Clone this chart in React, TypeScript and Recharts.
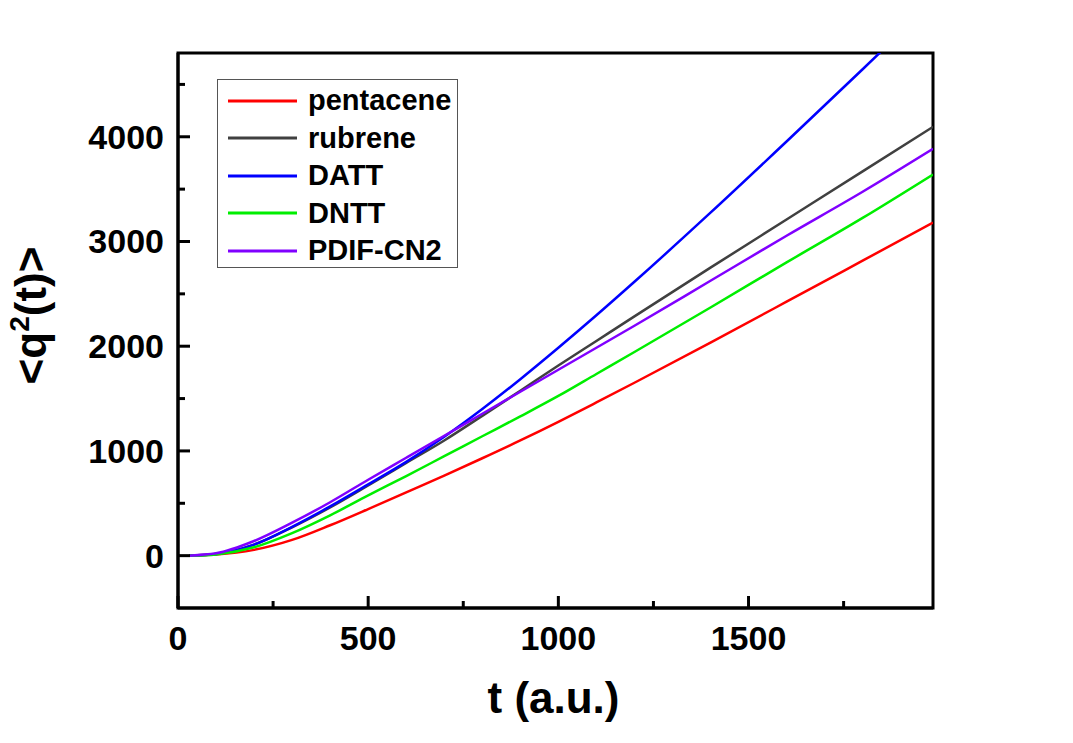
import React from "react";
import { LineChart, Line, XAxis, YAxis, Legend, ReferenceArea, Label } from "recharts";

const tValues = [30, 100, 200, 300, 400, 500, 600, 700, 800, 900, 1000, 1100, 1200, 1400, 1600, 1800, 1985];
const pentacene = [0, 10, 55, 150, 290, 445, 605, 765, 930, 1100, 1278, 1463, 1651, 2035, 2425, 2817, 3180];
const rubrene = [0, 15, 105, 270, 460, 670, 885, 1100, 1335, 1575, 1815, 2050, 2285, 2750, 3210, 3670, 4095];
const DATT = [0, 15, 105, 275, 470, 680, 895, 1135, 1400, 1685, 1985, 2295, 2615, 3275, 3955, 4645, 5290];
const DNTT = [0, 12, 80, 215, 385, 575, 760, 950, 1140, 1330, 1525, 1735, 1945, 2370, 2800, 3225, 3640];
const PDIF = [0, 22, 140, 315, 510, 725, 935, 1145, 1355, 1565, 1775, 1985, 2195, 2625, 3055, 3475, 3885];

const seriesNames = ["pentacene", "rubrene", "DATT", "DNTT", "PDIF-CN2"];
const seriesColors = ["#ff0000", "#404040", "#0000ff", "#00ee00", "#8000ff"];
const seriesValues = [pentacene, rubrene, DATT, DNTT, PDIF];

const xTicks = [0, 250, 500, 750, 1000, 1250, 1500, 1750];
const yTicks = [0, 500, 1000, 1500, 2000, 2500, 3000, 3500, 4000, 4500];
const xDomain = [0, 1985];
const yDomain = [-500, 4800];

const data = tValues.map((t, i) => {
  const row: any = { t };
  seriesNames.forEach((n, k) => {
    row[n] = seriesValues[k][i];
  });
  return row;
});

const FONT = "'Liberation Sans', Arial, sans-serif";

const XTick = (props: any) => {
  const { x, y, payload } = props;
  const major = payload.value % 500 === 0;
  return (
    <g>
      <line x1={x} x2={x} y1={y} y2={y - (major ? 12 : 7)} stroke="#000" strokeWidth={3} />
      {major && (
        <text x={x} y={y + 42} textAnchor="middle" fontFamily={FONT} fontWeight="bold" fontSize={34} fill="#000">
          {payload.value}
        </text>
      )}
    </g>
  );
};

const YTick = (props: any) => {
  const { x, y, payload } = props;
  const major = payload.value % 1000 === 0;
  return (
    <g>
      <line x1={x} x2={x + (major ? 12 : 7)} y1={y} y2={y} stroke="#000" strokeWidth={3} />
      {major && (
        <text x={x - 14} y={y + 12} textAnchor="end" fontFamily={FONT} fontWeight="bold" fontSize={34} fill="#000">
          {payload.value}
        </text>
      )}
    </g>
  );
};

const YTitle = (props: any) => {
  const vb = props.viewBox || { x: 18, y: 53, width: 160, height: 555 };
  const bx = vb.x + 28;
  const cy = vb.y + vb.height / 2 - 15;
  return (
    <text
      x={bx}
      y={cy}
      transform={`rotate(-90, ${bx}, ${cy})`}
      textAnchor="middle"
      fontFamily={FONT}
      fontWeight="bold"
      fontSize={44}
      fill="#000"
    >
      <tspan>{"<q"}</tspan>
      <tspan fontSize={28} dy={-17}>2</tspan>
      <tspan dy={17}>{"(t)>"}</tspan>
    </text>
  );
};

const XTitle = (props: any) => {
  const vb = props.viewBox || { x: 178, y: 608, width: 755, height: 120 };
  return (
    <text
      x={vb.x + vb.width / 2 - 2}
      y={vb.y + 105}
      textAnchor="middle"
      fontFamily={FONT}
      fontWeight="bold"
      fontSize={44}
      fill="#000"
    >
      t (a.u.)
    </text>
  );
};

const LegendBox = () => (
  <div
    style={{
      width: 241,
      height: 189,
      boxSizing: "border-box",
      border: "1.5px solid #555",
      background: "#fff",
      paddingTop: 2,
    }}
  >
    {seriesNames.map((n, i) => (
      <div key={n} style={{ height: 37.5, display: "flex", alignItems: "center" }}>
        <svg width={80} height={10} style={{ marginLeft: 10, flex: "none" }}>
          <line x1={0} x2={69} y1={5} y2={5} stroke={seriesColors[i]} strokeWidth={3} />
        </svg>
        <span style={{ fontFamily: FONT, fontWeight: "bold", fontSize: 29, color: "#000", lineHeight: "37px" }}>{n}</span>
      </div>
    ))}
  </div>
);

export default function App() {
  return (
    <div style={{ width: 1073, height: 743, position: "relative", background: "#fff", margin: "-8px 0 0 -8px" }}>
      <LineChart width={1073} height={743} data={data} margin={{ top: 53, right: 140, left: 18, bottom: 15 }}>
        <ReferenceArea
          x1={xDomain[0]}
          x2={xDomain[1]}
          y1={yDomain[0]}
          y2={yDomain[1]}
          fill="none"
          stroke="#000"
          strokeWidth={3}
          ifOverflow="visible"
        />
        <XAxis
          dataKey="t"
          type="number"
          domain={xDomain}
          ticks={xTicks}
          interval={0}
          allowDataOverflow
          height={120}
          tickSize={0}
          tickMargin={0}
          tickLine={false}
          axisLine={{ stroke: "#000", strokeWidth: 3 }}
          tick={<XTick />}
        >
          <Label content={<XTitle />} />
        </XAxis>
        <YAxis
          type="number"
          domain={yDomain}
          ticks={yTicks}
          interval={0}
          allowDataOverflow
          width={160}
          tickSize={0}
          tickMargin={0}
          tickLine={false}
          axisLine={{ stroke: "#000", strokeWidth: 3 }}
          tick={<YTick />}
        >
          <Label content={<YTitle />} />
        </YAxis>
        <Legend
          layout="vertical"
          align="center"
          verticalAlign="middle"
          content={<LegendBox />}
          wrapperStyle={{ position: "absolute", left: 217, top: 79, width: 241, height: 189 }}
        />
        {seriesNames.map((n, i) => (
          <Line
            key={n}
            type="monotone"
            dataKey={n}
            stroke={seriesColors[i]}
            strokeWidth={2.5}
            dot={false}
            isAnimationActive={false}
          />
        ))}
      </LineChart>
    </div>
  );
}
